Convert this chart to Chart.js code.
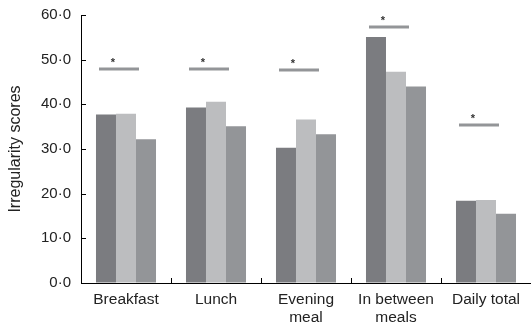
<!DOCTYPE html>
<html>
<head>
<meta charset="utf-8">
<script src="https://cdn.jsdelivr.net/npm/chart.js@4/dist/chart.umd.min.js"></script>
<style>
html,body{margin:0;padding:0;background:#fff;}
#wrap{width:531px;height:326px;}
</style>
</head>
<body>
<div id="wrap"><canvas id="c" width="531" height="326"></canvas></div>
<script>
const categories = [["Breakfast"], ["Lunch"], ["Evening", "meal"], ["In between", "meals"], ["Daily total"]];
const series1 = [37.7, 39.3, 30.3, 55.1, 18.4];
const series2 = [37.9, 40.6, 36.6, 47.3, 18.6];
const series3 = [32.2, 35.1, 33.3, 44.0, 15.5];
const sigLevels = [47.9, 47.9, 47.6, 57.3, 35.4];
const yTicks = [0, 10, 20, 30, 40, 50, 60];

const fmt = v => Number(v).toFixed(1).replace('.', '\u00B7');

const sigPlugin = {
  id: 'sig',
  afterDatasetsDraw(chart) {
    const ctx = chart.ctx;
    const x = chart.scales.x, y = chart.scales.y;
    ctx.save();
    sigLevels.forEach((lv, i) => {
      const c = x.getPixelForValue(i);
      const py = Math.round(y.getPixelForValue(lv));
      ctx.fillStyle = '#939598';
      ctx.fillRect(c - 27, py - 1.5, 40, 3);
      ctx.fillStyle = '#333';
      ctx.font = 'bold 11px "Liberation Sans", Arial, sans-serif';
      ctx.textAlign = 'center';
      ctx.textBaseline = 'middle';
      ctx.fillText('*', c - 13, py - 6);
    });
    ctx.restore();
  },
  afterDraw(chart) {
    const ctx = chart.ctx;
    const x = chart.scales.x, y = chart.scales.y;
    const ca = chart.chartArea;
    ctx.save();
    ctx.strokeStyle = '#000';
    ctx.lineWidth = 1;
    ctx.beginPath();
    y.ticks.forEach((t) => {
      const py = Math.round(y.getPixelForValue(t.value)) + 0.5;
      ctx.moveTo(ca.left, py);
      ctx.lineTo(ca.left + 5, py);
    });
    const half = (x.getPixelForValue(1) - x.getPixelForValue(0)) / 2;
    for (let i = 1; i < categories.length; i++) {
      const px = Math.round(x.getPixelForValue(i) - half) + 0.5;
      ctx.moveTo(px, ca.bottom);
      ctx.lineTo(px, ca.bottom - 5);
    }
    ctx.stroke();
    ctx.restore();
  }
};

Chart.defaults.font.family = '"Liberation Sans", Arial, sans-serif';
Chart.defaults.color = '#222';

new Chart(document.getElementById('c'), {
  type: 'bar',
  data: {
    labels: categories,
    datasets: [
      { data: series1, backgroundColor: '#7b7c80' },
      { data: series2, backgroundColor: '#bcbdbf' },
      { data: series3, backgroundColor: '#939598' }
    ]
  },
  options: {
    responsive: false,
    animation: false,
    events: [],
    layout: { padding: { top: 15, right: 0, left: 0, bottom: 0 } },
    plugins: { legend: { display: false }, tooltip: { enabled: false } },
    datasets: { bar: { categoryPercentage: 0.667, barPercentage: 1.0, borderWidth: 0 } },
    scales: {
      x: {
        grid: { display: true, drawOnChartArea: false, drawTicks: false },
        border: { display: true, color: '#000', width: 1 },
        ticks: { font: { size: 15.5, lineHeight: 1.2 }, color: '#222', padding: 7, maxRotation: 0, autoSkip: false },
        afterFit(s) { s.height = 43; s.paddingLeft = 0; s.paddingRight = 0; }
      },
      y: {
        min: 0, max: 60,
        afterBuildTicks(s) { s.ticks = yTicks.map(v => ({ value: v })); },
        grid: { display: true, drawOnChartArea: false, drawTicks: false },
        border: { display: true, color: '#000', width: 1 },
        ticks: { font: { size: 15 }, color: '#222', padding: 10, callback: v => fmt(v) },
        title: { display: true, text: 'Irregularity scores', font: { size: 16 }, color: '#222', padding: { top: 6, bottom: 4 } },
        afterFit(s) { s.width = 81; s.paddingTop = 0; s.paddingBottom = 0; }
      }
    }
  },
  plugins: [sigPlugin]
});
</script>
</body>
</html>
